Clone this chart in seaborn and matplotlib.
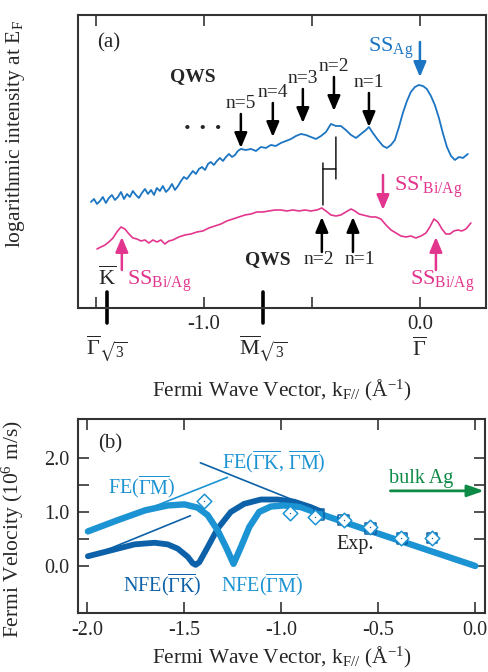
import numpy as np
import pandas as pd
import matplotlib
matplotlib.use("Agg")
import matplotlib.pyplot as plt
import seaborn as sns
from matplotlib.transforms import blended_transform_factory

# ---------------- Panel (a): log intensity at E_F ----------------
k_ag = [-1.523, -1.509, -1.495, -1.481, -1.468, -1.454, -1.440, -1.426, -1.412, -1.398,
        -1.384, -1.370, -1.356, -1.343, -1.329, -1.315, -1.301, -1.287, -1.273, -1.259,
        -1.245, -1.231, -1.218, -1.204, -1.190, -1.176, -1.162, -1.148, -1.134, -1.120,
        -1.106, -1.093, -1.079, -1.065, -1.051, -1.037, -1.023, -1.009, -0.995, -0.981,
        -0.968, -0.954, -0.940, -0.926, -0.912, -0.898, -0.884, -0.870, -0.856, -0.843,
        -0.829, -0.806, -0.782, -0.759, -0.736, -0.713, -0.690, -0.667, -0.644, -0.620,
        -0.597, -0.574, -0.551, -0.528, -0.505, -0.481, -0.458, -0.435, -0.412, -0.389,
        -0.366, -0.343, -0.319, -0.296, -0.273, -0.250, -0.236, -0.218, -0.194, -0.171,
        -0.153, -0.134, -0.116, -0.097, -0.079, -0.060, -0.042, -0.023, -0.005, 0.014,
        0.032, 0.051, 0.069, 0.088, 0.106, 0.125, 0.144, 0.162, 0.181, 0.199, 0.222]
i_ag = [105, 108, 103, 106, 110, 104, 109, 112, 107, 110,
        115, 108, 113, 110, 116, 112, 109, 114, 118, 113,
        117, 112, 119, 116, 121, 115, 118, 123, 117, 121,
        126, 130, 128, 132, 136, 133, 138, 140, 137, 143,
        145, 142, 146, 149, 146, 150, 153, 150, 152, 156,
        158, 157, 158, 156, 160, 159, 162, 161, 164, 166,
        168, 171, 173, 172, 170, 168, 171, 175, 183, 181,
        181, 177, 172, 169, 173, 177, 180, 174, 167, 161,
        159, 162, 167, 180, 194, 206, 215, 220, 222, 221,
        218, 211, 202, 189, 174, 160, 151, 147, 150, 149, 153]

k_bi = [-1.495, -1.477, -1.458, -1.440, -1.421, -1.403, -1.384, -1.366, -1.347, -1.329,
        -1.310, -1.292, -1.273, -1.255, -1.236, -1.218, -1.199, -1.181, -1.162, -1.144,
        -1.116, -1.088, -1.060, -1.032, -1.005, -0.977, -0.949, -0.921, -0.894, -0.866,
        -0.838, -0.810, -0.782, -0.755, -0.727, -0.699, -0.671, -0.644, -0.616, -0.588,
        -0.560, -0.532, -0.505, -0.477, -0.454, -0.435, -0.412, -0.389, -0.366, -0.343,
        -0.319, -0.301, -0.282, -0.264, -0.245, -0.227, -0.204, -0.181, -0.157, -0.134,
        -0.111, -0.088, -0.065, -0.042, -0.019, 0.005, 0.028, 0.046, 0.065, 0.083,
        0.102, 0.120, 0.139, 0.157, 0.176, 0.194, 0.213, 0.236]
i_bi = [58, 60, 62, 65, 69, 75, 80, 78, 73, 69,
        68, 66, 67, 64, 67, 65, 67, 63, 66, 67,
        70, 72, 73, 75, 76, 79, 81, 83, 86, 88,
        90, 92, 93, 95, 95, 96, 97, 97, 96, 97,
        96, 97, 96, 97, 99, 96, 92, 91, 92, 95,
        98, 96, 93, 92, 91, 90, 90, 88, 82, 77,
        74, 71, 70, 71, 69, 71, 74, 80, 88, 85,
        78, 73, 73, 76, 77, 76, 78, 84]

# symmetry points (Å^-1)
sym_k = [-1.449, -0.727, 0.0]
sym_lab = [r"$\overline{\Gamma}_{\sqrt{3}}$", r"$\overline{\mathrm{M}}_{\sqrt{3}}$", r"$\overline{\Gamma}$"]

# QWS arrows on Ag curve
qws_k = [-0.829, -0.681, -0.542, -0.398, -0.236]
qws_tip = [159, 170, 184, 196, 180]
qws_lab = ["n=5", "n=4", "n=3", "n=2", "n=1"]
# QWS arrows on Bi/Ag curve
qwsb_k = [-0.454, -0.310]
qwsb_lab_k = [-0.468, -0.278]
qwsb_lab = ["n=2", "n=1"]

# ---------------- Panel (b): Fermi velocity ----------------
k_fe = [-1.995, -1.84, -1.70, -1.584, -1.498, -1.43, -1.378, -1.327, -1.284, -1.245,
        -1.207, -1.164, -1.113, -1.053, -0.985, -0.90, -0.805, -0.60, -0.40, -0.20, 0.0]
v_fe = [0.64, 0.85, 1.03, 1.12, 1.14, 1.08, 0.94, 0.66, 0.35, 0.04,
        0.35, 0.72, 1.00, 1.10, 1.12, 1.09, 0.97, 0.72, 0.48, 0.24, 0.0]
k_nfe = [-1.995, -1.875, -1.755, -1.652, -1.584, -1.532, -1.481, -1.455, -1.440, -1.421, -1.378,
         -1.327, -1.259, -1.19, -1.104, -1.019, -0.933, -0.848, -0.796]
v_nfe = [0.18, 0.29, 0.40, 0.43, 0.40, 0.32, 0.17, 0.05, 0.02, 0.07, 0.35,
         0.69, 1.00, 1.15, 1.23, 1.23, 1.19, 1.09, 1.01]
k_exp_d = [-1.399, -0.954, -0.825, -0.676, -0.541, -0.380, -0.224]
v_exp_d = [1.20, 0.98, 0.91, 0.86, 0.72, 0.52, 0.52]
k_exp_s = [-0.805, -0.680, -0.540, -0.377, -0.223]
v_exp_s = [0.95, 0.85, 0.70, 0.51, 0.52]
bulk_v = 1.39

BLUE_A = "#1b75c2"
PINK = "#e2368e"
LIGHT = "#1c93d3"
DARK = "#0c61a8"
GREEN = "#0d8a45"
SPINE = "#333333"

sns.set_theme(style="ticks")
plt.rcParams["font.family"] = ["Liberation Serif", "DejaVu Serif"]
plt.rcParams["mathtext.fontset"] = "custom"
plt.rcParams["mathtext.rm"] = "Liberation Serif"
plt.rcParams["mathtext.it"] = "Liberation Serif:italic"
plt.rcParams["mathtext.bf"] = "Liberation Serif:bold"
plt.rcParams["mathtext.fallback"] = "stix"

fig = plt.figure(figsize=(4.89, 6.72), dpi=100)
axa = fig.add_axes([0.1595, 0.5417, 0.8344, 0.436])
axb = fig.add_axes([0.1595, 0.0878, 0.8323, 0.2887])

FS = 15

# ---- panel (a) ----
sns.lineplot(x=k_ag, y=i_ag, ax=axa, color=BLUE_A, lw=1.3, estimator=None, sort=False)
sns.lineplot(x=k_bi, y=i_bi, ax=axa, color=PINK, lw=1.2, estimator=None, sort=False)
axa.set_xlim(-1.583, 0.306)
axa.set_ylim(-1, 292)
axa.set_yticks([])
axa.set_xticks([-1.5, -1.0, -0.5, 0.0])
axa.set_xticklabels(["", "-1.0", "", "0.0"])
axa.tick_params(axis="x", direction="in", length=8, width=1.2, top=True, labelsize=FS, pad=5, color=SPINE)
for s in axa.spines.values():
    s.set_linewidth(1.5)
    s.set_color(SPINE)
axa.set_ylabel(r"logarithmic intensity at E$_{\mathrm{F}}$", fontsize=FS + 0.5)
axa.yaxis.set_label_coords(-0.125, 0.594)
axa.set_xlabel(r"Fermi Wave Vector, k$_{\mathrm{F//}}$ ($\mathrm{\AA}^{-1}$)", fontsize=FS + 0.3)
axa.xaxis.set_label_coords(0.5, -0.24)

trA = blended_transform_factory(axa.transData, axa.transAxes)
for k in sym_k[:2]:
    axa.axvline(k, ymin=-0.052, ymax=0.055, color="black", lw=2.6, clip_on=False)
for k, lab in zip(sym_k, sym_lab):
    axa.text(k, -0.14, lab, transform=trA, ha="center", va="center", fontsize=FS + 1)
axa.text(sym_k[0], 29, r"$\overline{\mathrm{K}}$", ha="center", va="center", fontsize=FS + 1)

axa.text(-1.44, 264, "(a)", ha="center", va="center", fontsize=FS)
axa.text(-1.051, 230, "QWS", ha="center", va="center", fontsize=FS - 1, fontweight="bold")
axa.text(-1.005, 178, "· · ·", ha="center", va="center", fontsize=FS + 4, fontweight="bold")

ARW = dict(arrowstyle="-|>,head_length=0.9,head_width=0.38", lw=1.8, shrinkA=0, shrinkB=0,
           mutation_scale=10)
for k, tip, lab in zip(qws_k, qws_tip, qws_lab):
    axa.annotate("", xy=(k, tip), xytext=(k, tip + 34), arrowprops=dict(color="black", **ARW))
    axa.text(k, tip + 36, lab, ha="center", va="bottom", fontsize=FS - 1)

axa.annotate("", xy=(0.0, 230), xytext=(0.0, 265), arrowprops=dict(color=BLUE_A, **ARW))
axa.text(-0.03, 259, r"SS$_{\mathrm{Ag}}$", ha="right", va="center", fontsize=FS + 1, color=BLUE_A)

axa.annotate("", xy=(-0.171, 97), xytext=(-0.171, 132), arrowprops=dict(color=PINK, **ARW))
axa.text(-0.12, 120, r"SS$'_{\mathrm{Bi/Ag}}$", ha="left", va="center", fontsize=FS + 1, color=PINK)

for k in [-1.380, 0.074]:
    axa.annotate("", xy=(k, 70), xytext=(k, 37), arrowprops=dict(color=PINK, **ARW))
axa.text(-1.355, 26, r"SS$_{\mathrm{Bi/Ag}}$", ha="left", va="center", fontsize=FS + 1, color=PINK)
axa.text(0.105, 26, r"SS$_{\mathrm{Bi/Ag}}$", ha="center", va="center", fontsize=FS + 1, color=PINK)

for k in qwsb_k:
    axa.annotate("", xy=(k, 90), xytext=(k, 55), arrowprops=dict(color="black", **ARW))
for k, lab in zip(qwsb_lab_k, qwsb_lab):
    axa.text(k, 47, lab, ha="center", va="center", fontsize=FS - 1)
axa.text(-0.704, 47, "QWS", ha="center", va="center", fontsize=FS - 1, fontweight="bold")

# shift bracket between n=2 peaks
LN = dict(arrowstyle="-", lw=1.0, color="black", shrinkA=0, shrinkB=0)
axa.annotate("", xy=(-0.449, 102), xytext=(-0.449, 144), arrowprops=LN)
axa.annotate("", xy=(-0.389, 128), xytext=(-0.389, 170), arrowprops=LN)
axa.annotate("", xy=(-0.449, 138), xytext=(-0.389, 138), arrowprops=LN)

# ---- panel (b) ----
sns.lineplot(x=k_nfe, y=v_nfe, ax=axb, color=DARK, lw=4.2, estimator=None, sort=False)
sns.lineplot(x=k_fe, y=v_fe, ax=axb, color=LIGHT, lw=4.6, estimator=None, sort=False)
sns.scatterplot(x=k_exp_s, y=v_exp_s, ax=axb, marker="s", s=60, facecolor="none",
                edgecolor=DARK, linewidth=1.1, zorder=5)
sns.scatterplot(x=k_exp_d, y=v_exp_d, ax=axb, marker="D", s=55, facecolor="white",
                edgecolor=LIGHT, linewidth=1.1, zorder=6)
sns.scatterplot(x=k_exp_d, y=v_exp_d, ax=axb, marker=".", s=4, color=DARK, linewidth=0, zorder=7)

axb.set_xlim(-2.046, 0.05)
axb.set_ylim(-0.87, 2.72)
axb.set_xticks([-2.0, -1.5, -1.0, -0.5, 0.0])
axb.set_xticklabels(["-2.0", "-1.5", "-1.0", "-0.5", "0.0"])
axb.set_yticks([0.0, 1.0, 2.0])
axb.set_yticklabels(["0.0", "1.0", "2.0"])
axb.set_yticks([0.5, 1.5], minor=True)
axb.tick_params(axis="both", which="both", direction="in", width=1.2, top=True, right=True,
                labelsize=FS - 0.5, color=SPINE)
axb.tick_params(axis="both", which="major", length=8, pad=6)
axb.tick_params(axis="both", which="minor", length=8)
for s in axb.spines.values():
    s.set_linewidth(1.5)
    s.set_color(SPINE)
axb.set_xlabel(r"Fermi Wave Vector, k$_{\mathrm{F//}}$ ($\mathrm{\AA}^{-1}$)", fontsize=FS + 0.3, labelpad=3)
axb.set_ylabel(r"Fermi Velocity (10$^{6}$ m/s)", fontsize=FS + 0.5)
axb.yaxis.set_label_coords(-0.128, 0.433)

axb.text(-1.88, 2.26, "(b)", ha="center", va="center", fontsize=FS)
axb.text(-1.036, 1.91, r"FE($\overline{\Gamma}\overline{\mathrm{K}}$, $\overline{\Gamma}\overline{\mathrm{M}}$)",
         ha="center", va="center", fontsize=FS - 0.5, color=LIGHT)
axb.text(-1.72, 1.45, r"FE($\overline{\Gamma}\overline{\mathrm{M}}$)", ha="center", va="center",
         fontsize=FS - 0.5, color=LIGHT)
axb.text(-1.61, -0.36, r"NFE($\overline{\Gamma}\overline{\mathrm{K}}$)", ha="center", va="center",
         fontsize=FS - 0.5, color=DARK)
axb.text(-1.096, -0.36, r"NFE($\overline{\Gamma}\overline{\mathrm{M}}$)", ha="center", va="center",
         fontsize=FS - 0.5, color=LIGHT)
axb.text(-0.616, 0.40, "Exp.", ha="center", va="center", fontsize=FS - 0.5, color="#222222")
axb.text(-0.28, 1.62, "bulk Ag", ha="center", va="center", fontsize=FS - 0.5, color=GREEN)

TL = dict(arrowstyle="-", shrinkA=0, shrinkB=0)
axb.annotate("", xy=(-0.805, 1.03), xytext=(-1.416, 1.91), arrowprops=dict(color=DARK, lw=1.2, **TL))
axb.annotate("", xy=(-1.986, 0.63), xytext=(-1.276, 1.64), arrowprops=dict(color=LIGHT, lw=1.2, **TL))
axb.annotate("", xy=(-1.986, 0.17), xytext=(-1.467, 0.93), arrowprops=dict(color=DARK, lw=1.2, **TL))
axb.annotate("", xy=(0.045, bulk_v), xytext=(-0.437, bulk_v),
             arrowprops=dict(arrowstyle="-|>,head_length=1.0,head_width=0.35", lw=2.0, color=GREEN,
                             shrinkA=0, shrinkB=0, mutation_scale=10), annotation_clip=False)

fig.savefig("out.png", dpi=100)
